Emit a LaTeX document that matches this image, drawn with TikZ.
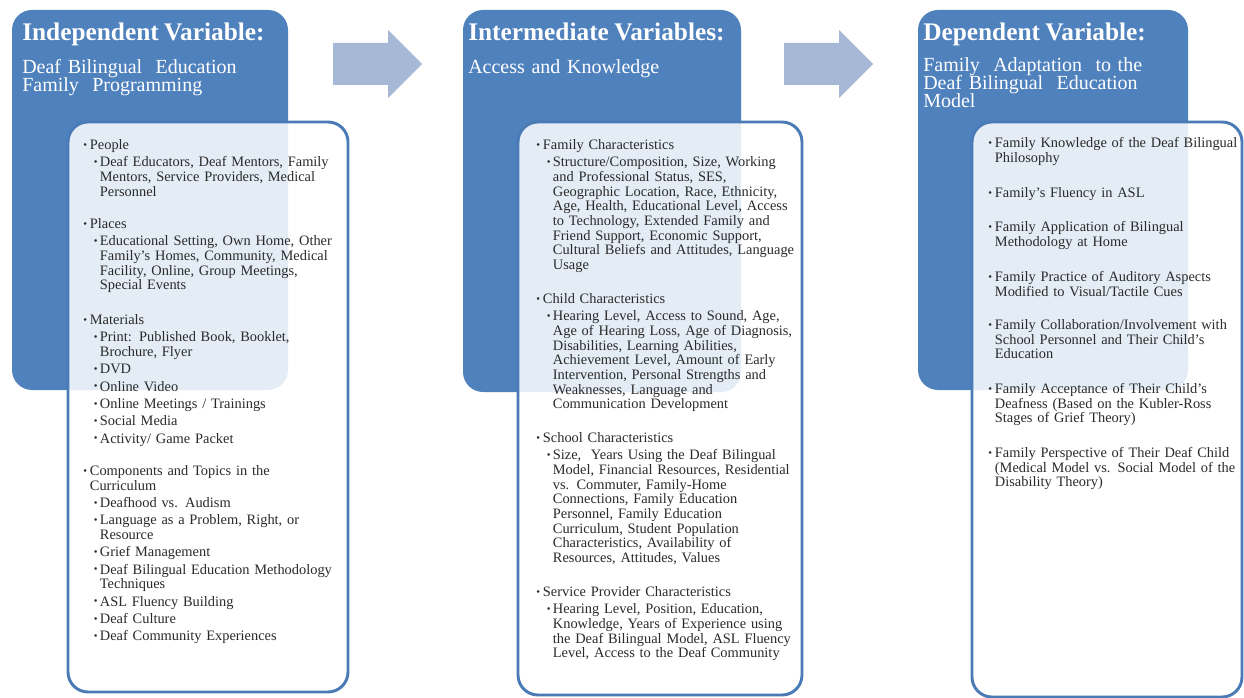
\documentclass[tikz,border=0pt]{standalone}
\usepackage{fontspec}
\setmainfont{Liberation Serif}[WordSpace=0.85]
\usepackage{tikz}
\usetikzlibrary{arrows}
\definecolor{varblue}{HTML}{4F81BD}
\definecolor{boxedge}{HTML}{4A7BB7}
\definecolor{arrowblue}{HTML}{A7B8D7}
\definecolor{bodytext}{HTML}{2A2A2A}
\newcommand{\tightlines}{\setlength{\lineskiplimit}{-20pt}}
\newcommand{\nl}{\hfil\break}
\newcommand{\smallbul}{\raisebox{0.2ex}{\fontsize{8}{8}\selectfont\textbullet}}
\newcommand{\lvlone}[1]{\noindent\hangindent=5pt\hangafter=1\makebox[5pt][l]{\smallbul}#1\par\vspace{2pt}}
\newcommand{\lvltwo}[1]{\par\noindent\hangindent=12.5pt\hangafter=1\hspace*{8pt}\makebox[4.5pt][l]{\smallbul}#1\par\vspace{2pt}}

\begin{document}
\begin{tikzpicture}[x=0.75pt,y=-0.75pt,
    bluebox/.style={fill=varblue, rounded corners=15pt},
    listbox/.style={fill=white, fill opacity=0.85, draw=boxedge, line width=2.2pt, rounded corners=15pt},
    blockarrow/.style={fill=arrowblue},
    headtext/.style={anchor=base west, inner sep=0pt, text=white, font=\fontsize{19}{19}\selectfont\bfseries},
    subtext/.style={anchor=base west, inner sep=0pt, text=white, text width=250pt, font=\fontsize{15}{13.2}\selectfont\tightlines},
    listtext/.style={anchor=base west, inner sep=0pt, text=bodytext, text width=220pt, font=\fontsize{10.8}{11}\selectfont\tightlines}]
                \useasboundingbox (0,0) rectangle (1244,698);
                \fill[white] (0,0) rectangle (1244,698);
                \fill[bluebox] (12,10) rectangle (288,390);
                \fill[bluebox] (463,10) rectangle (741,392);
                \fill[bluebox] (918,10) rectangle (1188,390);
                \foreach \ax in {333,784}
                    \fill[blockarrow] (\ax,43) -- (\ax+55,43) -- (\ax+55,30) -- (\ax+89,64) -- (\ax+55,98) -- (\ax+55,85) -- (\ax,85) -- cycle;
                \filldraw[listbox] (68,122) rectangle (348,692);
                \filldraw[listbox] (518,122) rectangle (802,695);
                \filldraw[listbox] (972,122) rectangle (1242,697);
                \node[headtext] (indephead) at (22,41) {Independent Variable:};
                \node[subtext] (indepsub) at (22,74) {Deaf Bilingual\ \ Education\\Family\ \ Programming};
                \node[headtext] (interhead) at (468,41) {Intermediate Variables:};
                \node[subtext] (intersub) at (468,74) {Access and Knowledge};
                \node[headtext] (dephead) at (923,41) {Dependent Variable:};
                \node[subtext] (depsub) at (923,72) {Family\ \ Adaptation\ \ to the\\Deaf Bilingual\ \ Education\\Model};
                \node[listtext] (people) at (83,149.5) {\lvlone{People}
                    \lvltwo{Deaf Educators, Deaf Mentors, Family\nl Mentors, Service Providers, Medical\nl Personnel}};
                \node[listtext] (places) at (83,228.5) {\lvlone{Places}
                    \lvltwo{Educational Setting, Own Home, Other\nl Family’s Homes, Community, Medical\nl Facility, Online, Group Meetings,\nl Special Events}};
                \node[listtext] (materials) at (83,324.5) {\lvlone{Materials}
                    \lvltwo{Print: Published Book, Booklet,\nl Brochure, Flyer}
                    \lvltwo{DVD}
                    \lvltwo{Online Video}
                    \lvltwo{Online Meetings / Trainings}
                    \lvltwo{Social Media}
                    \lvltwo{Activity/ Game Packet}};
                \node[listtext] (components) at (83,475.5) {\lvlone{Components and Topics in the\nl Curriculum}
                    \lvltwo{Deafhood vs. Audism}
                    \lvltwo{Language as a Problem, Right, or\nl Resource}
                    \lvltwo{Grief Management}
                    \lvltwo{Deaf Bilingual Education Methodology\nl Techniques}
                    \lvltwo{ASL Fluency Building}
                    \lvltwo{Deaf Culture}
                    \lvltwo{Deaf Community Experiences}};
                \node[listtext] (familychar) at (536,149.5) {\lvlone{Family Characteristics}
                    \lvltwo{Structure/Composition, Size, Working\nl and Professional Status, SES,\nl Geographic Location, Race, Ethnicity,\nl Age, Health, Educational Level, Access\nl to Technology, Extended Family and\nl Friend Support, Economic Support,\nl Cultural Beliefs and Attitudes, Language\nl Usage}};
                \node[listtext] (childchar) at (536,303.5) {\lvlone{Child Characteristics}
                    \lvltwo{Hearing Level, Access to Sound, Age,\nl Age of Hearing Loss, Age of Diagnosis,\nl Disabilities, Learning Abilities,\nl Achievement Level, Amount of Early\nl Intervention, Personal Strengths and\nl Weaknesses, Language and\nl Communication Development}};
                \node[listtext] (schoolchar) at (536,442.5) {\lvlone{School Characteristics}
                    \lvltwo{Size,\ \ Years Using the Deaf Bilingual\nl Model, Financial Resources, Residential\nl vs. Commuter, Family-Home\nl Connections, Family Education\nl Personnel, Family Education\nl Curriculum, Student Population\nl Characteristics, Availability of\nl Resources, Attitudes, Values}};
                \node[listtext] (providerchar) at (536,596.5) {\lvlone{Service Provider Characteristics}
                    \lvltwo{Hearing Level, Position, Education,\nl Knowledge, Years of Experience using\nl the Deaf Bilingual Model, ASL Fluency\nl Level, Access to the Deaf Community}};
                \node[listtext] (knowledge) at (988,147.5) {\lvlone{Family Knowledge of the Deaf Bilingual\nl Philosophy}};
                \node[listtext] (fluency) at (988,197.5) {\lvlone{Family’s Fluency in ASL}};
                \node[listtext] (application) at (988,231.5) {\lvlone{Family Application of Bilingual\nl Methodology at Home}};
                \node[listtext] (practice) at (988,281.5) {\lvlone{Family Practice of Auditory Aspects\nl Modified to Visual/Tactile Cues}};
                \node[listtext] (collaboration) at (988,329.5) {\lvlone{Family Collaboration/Involvement with\nl School Personnel and Their Child’s\nl Education}};
                \node[listtext] (acceptance) at (988,393.5) {\lvlone{Family Acceptance of Their Child’s\nl Deafness (Based on the Kubler-Ross\nl Stages of Grief Theory)}};
                \node[listtext] (perspective) at (988,457.5) {\lvlone{Family Perspective of Their Deaf Child\nl (Medical Model vs. Social Model of the\nl Disability Theory)}};
            \end{tikzpicture}
\end{document}
